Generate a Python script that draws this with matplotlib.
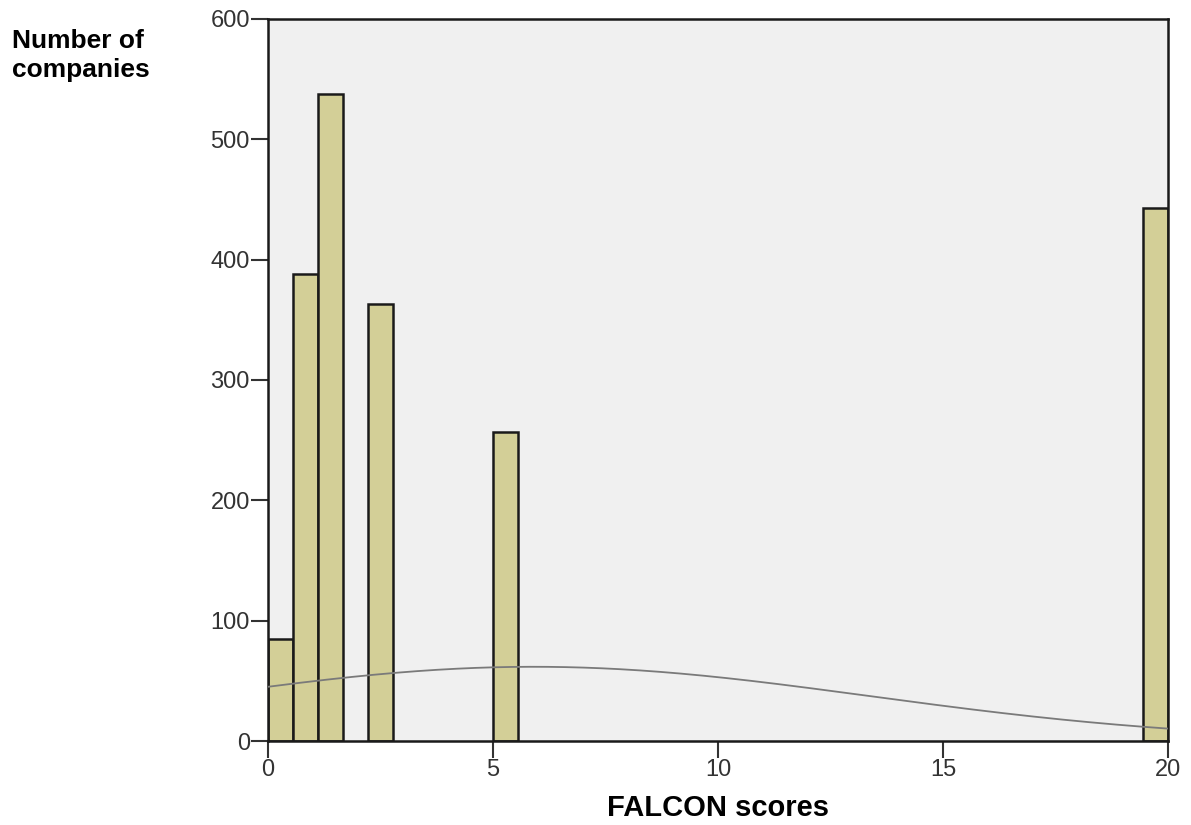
import numpy as np
import matplotlib.pyplot as plt

# FALCON score values and number of companies at each score
scores = np.array([0, 1, 1.5, 2.5, 5, 20])
counts = np.array([85, 388, 538, 363, 257, 443])

x_ticks = [0, 5, 10, 15, 20]
y_ticks = [0, 100, 200, 300, 400, 500, 600]

n_bins = 36
x_min, x_max = 0, 20
bin_w = (x_max - x_min) / n_bins

plt.rcParams['font.family'] = ['Liberation Sans', 'DejaVu Sans']

fig = plt.figure(figsize=(11.91, 8.25), dpi=100)
ax = fig.add_axes([0.225, 0.1018, 0.7557, 0.8752])
ax.set_facecolor('#F0F0F0')

# histogram bars: each score falls in one of 36 equal bins
bin_idx = np.minimum(np.floor((scores - x_min) / bin_w + 1e-9), n_bins - 1)
lefts = x_min + bin_idx * bin_w
ax.bar(lefts, counts, width=bin_w, align='edge', color='#D3CF97',
       edgecolor='#1a1a1a', linewidth=1.8, zorder=2)

# fitted normal curve scaled to the counts
total = counts.sum()
mean = np.sum(scores * counts) / total
std = np.sqrt(np.sum(counts * (scores - mean) ** 2) / total)
xs = np.linspace(x_min, x_max, 400)
ys = total * bin_w * np.exp(-0.5 * ((xs - mean) / std) ** 2) / (std * np.sqrt(2 * np.pi))
ax.plot(xs, ys, color='#7a7a7a', linewidth=1.3, zorder=3)

ax.set_xlim(x_min, x_max)
ax.set_ylim(0, 600)
ax.set_xticks(x_ticks)
ax.set_yticks(y_ticks)
ax.tick_params(direction='out', length=12, width=1.5, labelsize=17,
               colors='#333333', pad=1)
for s in ax.spines.values():
    s.set_linewidth(1.8)
    s.set_color('#1a1a1a')

ax.set_xlabel('FALCON scores', fontsize=21, fontweight='bold', labelpad=9)
fig.text(12 / 1191, 1 - 29 / 825, 'Number of\ncompanies', fontsize=19,
         fontweight='bold', ha='left', va='top', linespacing=1.25)

fig.savefig('out.png', dpi=100, facecolor='white')
